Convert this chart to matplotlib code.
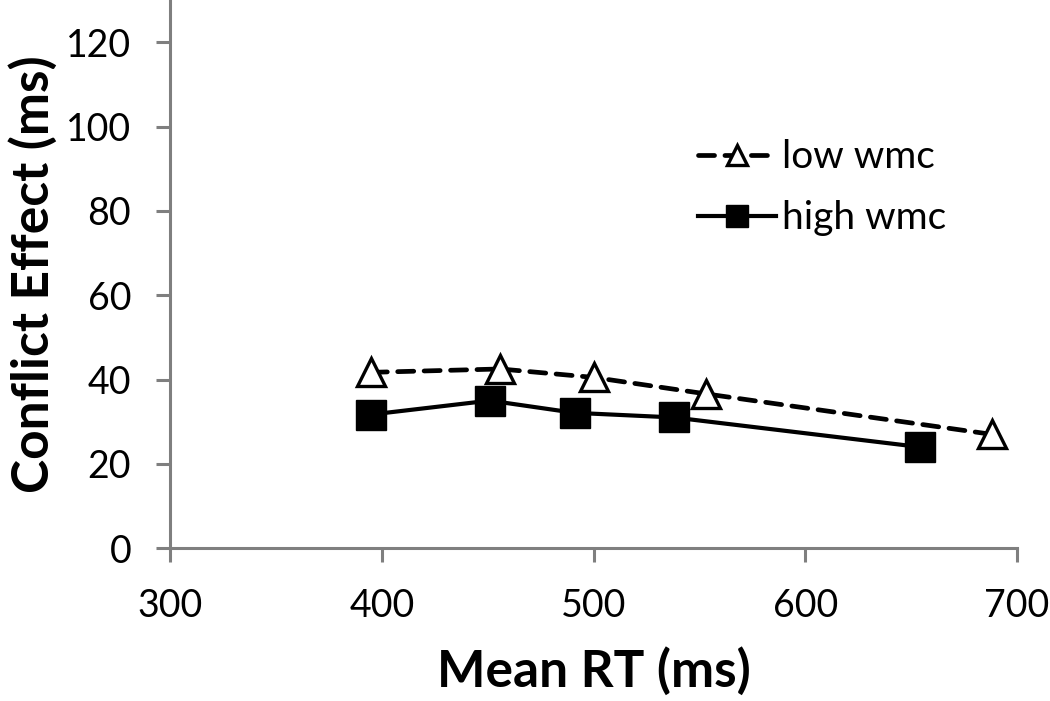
import matplotlib.pyplot as plt

# Mean RT (ms) and conflict effect (ms) per group
low_rt = [395, 456, 500, 553, 688]
low_effect = [41.7, 42.5, 40.5, 36.6, 27.0]
high_rt = [395, 451, 491, 538, 654]
high_effect = [31.7, 35.0, 32.1, 31.0, 24.0]

x_ticks = [300, 400, 500, 600, 700]
y_ticks = [0, 20, 40, 60, 80, 100, 120]

plt.rcParams['font.family'] = ['Lato', 'DejaVu Sans']

fig = plt.figure(figsize=(10.5, 7.01), dpi=100)
ax = fig.add_axes([0.162, 0.218, 0.8066, 0.782])

ax.plot(low_rt, low_effect, color='black', lw=3.4, linestyle=(0, (3.4, 2.2)),
        dash_capstyle='round', marker='^', ms=20, mfc='white', mec='black',
        mew=2.4, label='low wmc', zorder=3)
ax.plot(high_rt, high_effect, color='black', lw=3, marker='s', ms=22,
        mfc='black', mec='black', mew=1, label='high wmc', zorder=4)

ax.set_xlim(300, 700)
ax.set_ylim(0, 130)
ax.set_xticks(x_ticks)
ax.set_yticks(y_ticks)

for side in ['top', 'right']:
    ax.spines[side].set_visible(False)
for side in ['left', 'bottom']:
    ax.spines[side].set_color('#7f7f7f')
    ax.spines[side].set_linewidth(2.2)

ax.tick_params(axis='both', color='#7f7f7f', width=2.2, length=10,
               labelsize=27)
ax.tick_params(axis='x', pad=19)
ax.tick_params(axis='y', pad=18)

ax.set_xlabel('Mean RT (ms)', fontsize=37, fontweight='bold', labelpad=16)
ax.set_ylabel('Conflict Effect (ms)', fontsize=37, fontweight='bold', labelpad=6)

ax.legend(loc='upper left', bbox_to_anchor=(0.582, 0.81), frameon=False,
          fontsize=28, handlelength=2.0, markerscale=0.75, labelspacing=0.65,
          handletextpad=0.15)

fig.savefig('out.png', dpi=100)
